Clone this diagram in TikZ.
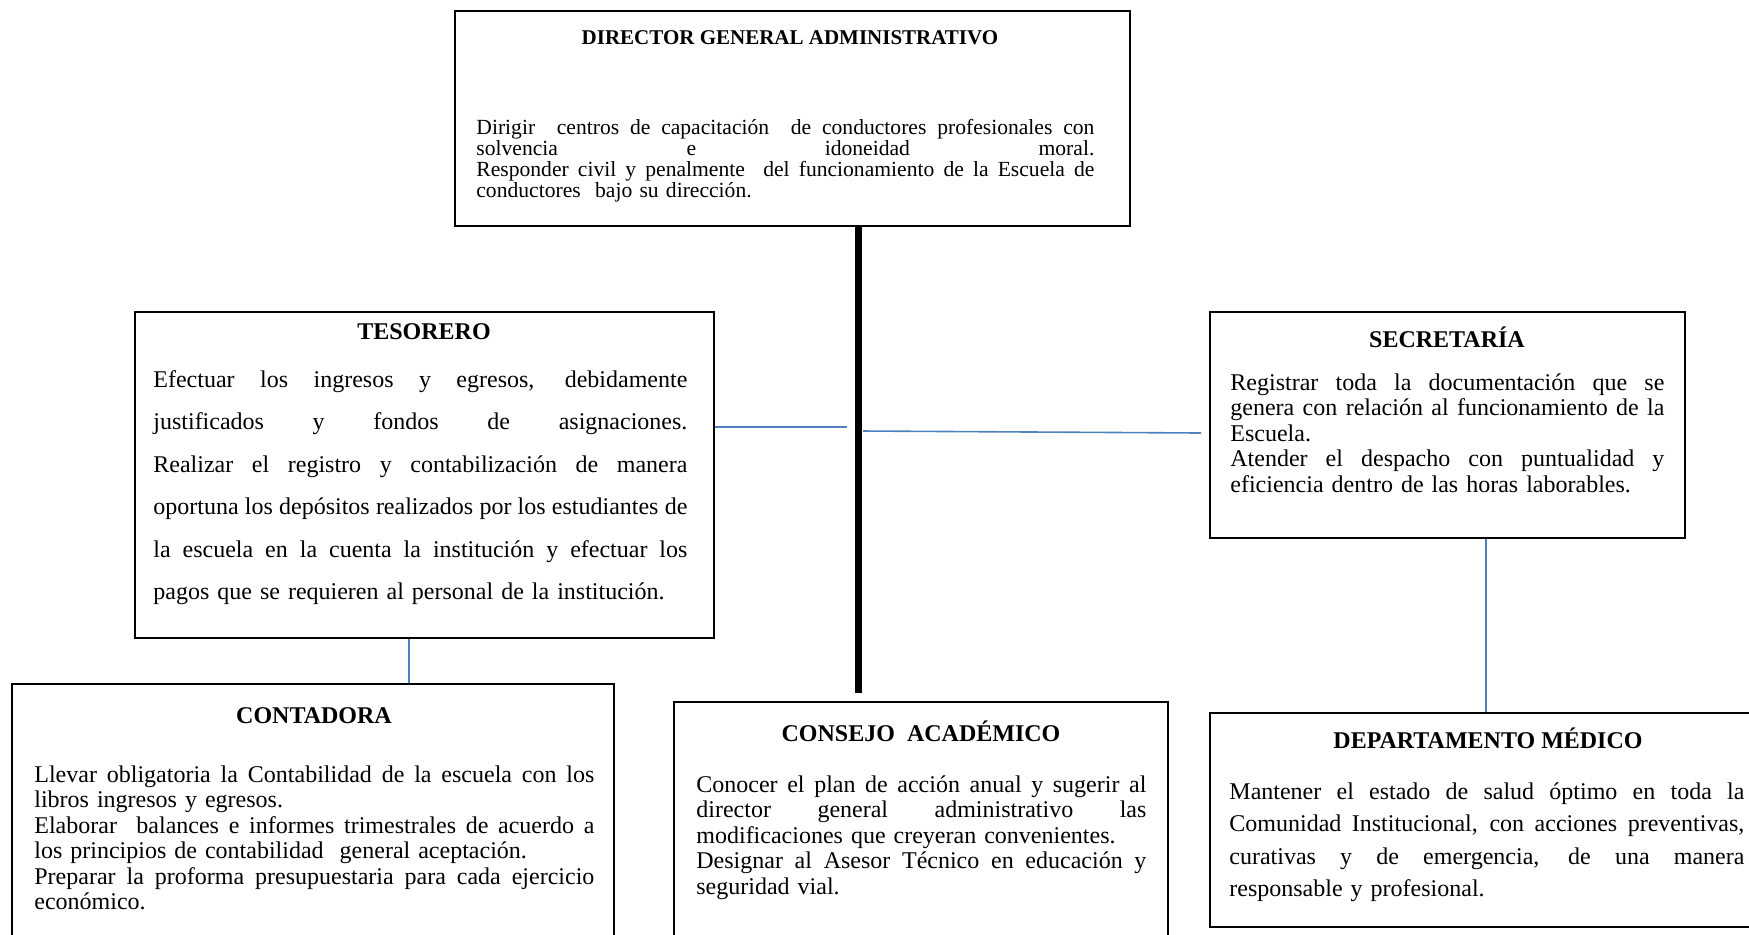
\documentclass[tikz,border=0pt]{standalone}
\usepackage{fontspec}
\setmainfont{Liberation Serif}
\usetikzlibrary{fit}
\definecolor{azul}{RGB}{79,129,189}
\newcommand{\lj}[1]{\makebox[\hsize][s]{\spaceskip=.25em plus 1fil minus .08em\relax #1}}
\tikzset{
  cargo/.style={draw=black, line width=1pt, inner sep=0pt},
  titulo/.style={anchor=base, inner sep=0pt, font=\fontsize{12pt}{13.8pt}\selectfont\bfseries},
  texto/.style={anchor=base west, inner sep=0pt, align=left},
  enlace/.style={draw=azul, line width=0.8pt},
  tronco/.style={draw=black, line width=3.5pt}
}

\begin{document}
\begin{tikzpicture}[x=0.5pt,y=0.5pt,yscale=-1]
\useasboundingbox (0,0) rectangle (1749,934);

%Boxes
\node[cargo, fit={(455,11) (1130,226)}] (dir) {};
\node[cargo, fit={(135,312) (714,638)}] (teso) {};
\node[cargo, fit={(1210,312) (1685,538)}] (secr) {};
\node[cargo, fit={(12,684) (614,944)}] (cont) {};
\node[cargo, fit={(674,702) (1168,944)}] (cons) {};
\node[cargo, fit={(1210,713) (1756,927)}] (med) {};

%Connectors
\coordinate (barx) at (858,0);
\coordinate (ramal) at (847,427);
\coordinate (ramalb) at (863,431);
\coordinate (ramalc) at (1201,433);
\coordinate (bajaa) at (409,0);
\coordinate (bajab) at (1486,0);
\draw[tronco, shorten >=4pt] (dir.south -| barx) -- (cons.north -| barx);
\draw[enlace] (teso.east |- ramal) -- (ramal);
\draw[enlace] (ramalb) -- (ramalc);
\draw[enlace] (teso.south -| bajaa) -- (cont.north -| bajaa);
\draw[enlace] (secr.south -| bajab) -- (med.north -| bajab);

% Text Node
\node[titulo, font=\fontsize{10.5pt}{12pt}\selectfont\bfseries] (dirtit) at (790,44) {DIRECTOR GENERAL ADMINISTRATIVO};
\node[texto, text width=309pt, font=\fontsize{10.8pt}{10.5pt}\selectfont] (dirtxt) at (476,134) {%
\lj{Dirigir\ \ centros de capacitación\ \ de conductores profesionales con}\\
\lj{solvencia e idoneidad moral.}\\
\lj{Responder civil y penalmente\ \ del funcionamiento de la Escuela de}\\
conductores\ \ bajo su dirección.};
% Text Node
\node[titulo] (tesotit) at (424,339) {TESORERO};
\node[texto, text width=267pt, font=\fontsize{12pt}{21.25pt}\selectfont] (tesotxt) at (153,387) {%
\lj{Efectuar los ingresos y egresos, debidamente}\\
\lj{justificados y fondos de asignaciones.}\\
\lj{Realizar el registro y contabilización de manera}\\
\lj{oportuna los depósitos realizados por los estudiantes de}\\
\lj{la escuela en la cuenta la institución y efectuar los}\\
pagos que se requieren al personal de la institución.};
% Text Node
\node[titulo] (secrtit) at (1447,347) {SECRETARÍA};
\node[texto, text width=217pt, font=\fontsize{12pt}{12.75pt}\selectfont] (secrtxt) at (1230,390) {%
\lj{Registrar toda la documentación que se}\\
\lj{genera con relación al funcionamiento de la}\\
Escuela.\\
\lj{Atender el despacho con puntualidad y}\\
eficiencia dentro de las horas laborables.};
% Text Node
\node[titulo] (conttit) at (314,723) {CONTADORA};
\node[texto, text width=280pt, font=\fontsize{12pt}{12.75pt}\selectfont] (conttxt) at (34,782) {%
\lj{Llevar obligatoria la Contabilidad de la escuela con los}\\
libros ingresos y egresos.\\
\lj{Elaborar\ \ balances e informes trimestrales de acuerdo a}\\
los principios de contabilidad\ \ general aceptación.\\
\lj{Preparar la proforma presupuestaria para cada ejercicio}\\
económico.};
% Text Node
\node[titulo] (constit) at (921,741) {CONSEJO\ \ ACADÉMICO};
\node[texto, text width=225pt, font=\fontsize{12pt}{12.75pt}\selectfont] (constxt) at (696,792) {%
\lj{Conocer el plan de acción anual y sugerir al}\\
\lj{director general administrativo las}\\
modificaciones que creyeran convenientes.\\
\lj{Designar al Asesor Técnico en educación y}\\
seguridad vial.};
% Text Node
\node[titulo] (medtit) at (1488,748) {DEPARTAMENTO MÉDICO};
\node[texto, text width=257.5pt, font=\fontsize{12pt}{16.25pt}\selectfont] (medtxt) at (1229,799) {%
\lj{Mantener el estado de salud óptimo en toda la}\\
\lj{Comunidad Institucional, con acciones preventivas,}\\
\lj{curativas y de emergencia, de una manera}\\
responsable y profesional.};

\end{tikzpicture}
\end{document}
